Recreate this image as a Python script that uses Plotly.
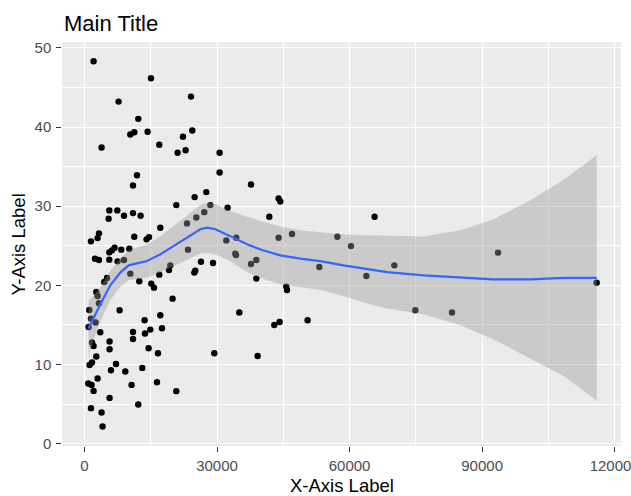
import plotly.graph_objects as go

# ---- scatter data ----
pts_x = [2060, 15052, 7719, 24106, 12178, 10367, 11272, 14283, 24400, 22295,
         3871, 16931, 21073, 22884, 11883, 10978, 20779, 24921, 27569, 5613,
         7424, 5455, 10978, 12698, 8941, 25306, 27117, 23201, 17157, 3282,
         2965, 1471, 11272, 14600, 14056, 6813, 5613, 6225, 8330, 10141,
         23427, 2377, 3282, 5613, 7492, 8941, 26370, 19421, 19127, 10367,
         16931, 25080, 24853, 5093, 4482, 12404, 15120, 15731, 2671, 2965,
         19941, 3282, 1086, 7945, 17157, 1471, 2512, 13604, 928, 3576,
         10978, 10978, 13694, 14894, 17542, 5681, 1698, 2060, 5681, 14509,
         16637, 2671, 1698, 1154, 7130, 5998, 9235, 13083, 2965, 860,
         1607, 2060, 10661, 16410, 20779, 5681, 12178, 1471, 3871, 4097,
         30580, 30580, 37687, 43935, 44320, 28475, 32391, 41831, 65664, 32096,
         34360, 43935, 46968, 57230, 60323, 34134, 34292, 37687, 38887, 29086,
         38887, 53147, 63786, 70125, 45657, 45836, 35038, 42961, 44160, 50499,
         29380, 39182, 74875, 83184, 93596, 115915]
pts_y = [48.31, 46.16, 43.22, 43.85, 41.04, 39.06, 39.35, 39.40, 39.56, 38.77,
         37.42, 37.76, 36.75, 37.08, 33.92, 32.62, 30.14, 31.15, 31.78, 29.47,
         29.47, 28.42, 29.13, 28.80, 28.80, 28.58, 29.25, 27.83, 27.28, 26.57,
         25.97, 25.56, 26.15, 26.10, 25.81, 24.76, 24.17, 24.42, 24.51, 24.63,
         24.51, 23.37, 23.20, 23.25, 23.03, 23.20, 22.99, 22.53, 21.93, 21.48,
         21.35, 21.86, 21.61, 20.92, 20.42, 20.51, 20.22, 19.71, 19.16, 18.65,
         18.32, 17.73, 16.89, 16.85, 16.22, 15.80, 15.30, 15.59, 14.74, 14.07,
         14.11, 13.23, 13.91, 14.41, 14.58, 12.90, 12.77, 12.34, 11.93, 12.05,
         11.42, 11.00, 10.25, 9.94, 10.07, 9.28, 9.11, 9.57, 8.23, 7.60,
         7.42, 6.66, 7.42, 7.76, 6.63, 5.78, 4.95, 4.48, 3.94, 2.17,
         36.75, 34.26, 32.75, 30.98, 30.60, 30.14, 29.81, 28.67, 28.67, 25.68,
         26.02, 26.02, 26.48, 26.15, 24.96, 24.00, 23.83, 22.69, 23.20, 22.82,
         20.85, 22.31, 21.18, 22.53, 19.84, 19.41, 16.56, 14.99, 15.37, 15.59,
         11.42, 11.08, 16.85, 16.56, 24.13, 20.34]

# ---- smoother (loess fit and confidence band) ----
fit_x = [928, 2060, 3576, 5840, 8104, 9982, 11883, 14147, 17157, 20168,
         23201, 26211, 27796, 29607, 33002, 36782, 40177, 44320, 48847, 53374,
         58648, 63945, 68472, 76756, 85062, 92600, 100907, 108444, 115915]
fit_y = [14.54, 15.93, 17.60, 20.00, 21.61, 22.53, 22.78, 23.07, 23.91, 24.96,
         26.02, 27.09, 27.28, 27.09, 26.22, 25.18, 24.46, 23.79, 23.37, 23.07,
         22.53, 22.02, 21.68, 21.26, 20.97, 20.76, 20.76, 20.95, 20.95]
fit_se = [3.53, 2.8, 2.2, 1.85, 1.8, 1.9, 2.0, 2.1, 2.3, 2.5,
          2.8, 3.05, 3.2, 3.2, 3.16, 3.5, 3.6, 3.66, 3.6, 3.63,
          3.9, 4.3, 4.6, 4.9, 6.0, 7.6, 10.0, 12.4, 15.5]

x_ticks = [0, 30000, 60000, 90000, 120000]
y_ticks = [0, 10, 20, 30, 40, 50]

FONT = "Liberation Sans, Arial, sans-serif"

upper = [m + s for m, s in zip(fit_y, fit_se)]
lower = [m - s for m, s in zip(fit_y, fit_se)]

fig = go.Figure()
fig.add_trace(go.Scatter(x=pts_x, y=pts_y, mode="markers",
                         marker=dict(color="black", size=6.4, line=dict(width=0)),
                         hoverinfo="skip", showlegend=False))
fig.add_trace(go.Scatter(x=fit_x + fit_x[::-1], y=upper + lower[::-1],
                         mode="lines", line=dict(width=0, color="rgba(0,0,0,0)"),
                         fill="toself", fillcolor="rgba(153,153,153,0.4)",
                         hoverinfo="skip", showlegend=False))
fig.add_trace(go.Scatter(x=fit_x, y=fit_y, mode="lines",
                         line=dict(color="#3366FF", width=2.2),
                         hoverinfo="skip", showlegend=False))

axis_common = dict(
    showgrid=True, gridcolor="white", gridwidth=1.4,
    zeroline=False, showline=False, automargin=False,
    ticks="outside", ticklen=4.7, tickwidth=1.3, tickcolor="#333333",
    tickfont=dict(family=FONT, size=15, color="#4D4D4D"),
)

fig.update_xaxes(range=[-5090, 121430], tickmode="array", tickvals=x_ticks,
                 ticktext=[str(v) for v in x_ticks], ticklabelstandoff=1,
                 ticklabeloverflow="allow",
                 minor=dict(dtick=15000, tick0=0, showgrid=True,
                            gridcolor="white", gridwidth=0.8, ticklen=0),
                 **axis_common)
fig.update_yaxes(range=[-0.3, 50.75], tickmode="array", tickvals=y_ticks,
                 ticktext=[str(v) for v in y_ticks], ticklabelstandoff=2,
                 minor=dict(dtick=5, tick0=0, showgrid=True,
                            gridcolor="white", gridwidth=0.8, ticklen=0),
                 **axis_common)

fig.update_layout(
    width=631, height=496,
    margin=dict(l=62, r=10, t=42, b=50, pad=0, autoexpand=False),
    paper_bgcolor="white", plot_bgcolor="#EBEBEB",
    font=dict(family=FONT),
    showlegend=False,
    annotations=[
        dict(text="Main Title", xref="paper", yref="paper", x=0, y=1.045,
             xanchor="left", yanchor="middle", showarrow=False,
             font=dict(family=FONT, size=22, color="black")),
        dict(text="X-Axis Label", xref="paper", yref="paper", x=0.5, y=-0.098,
             xanchor="center", yanchor="middle", showarrow=False,
             font=dict(family=FONT, size=18.5, color="black")),
        dict(text="Y-Axis Label", xref="paper", yref="paper", x=-0.078, y=0.5,
             xanchor="center", yanchor="middle", showarrow=False, textangle=-90,
             font=dict(family=FONT, size=18.5, color="black")),
    ],
)

fig.write_html("out.html", config={"displayModeBar": False})
